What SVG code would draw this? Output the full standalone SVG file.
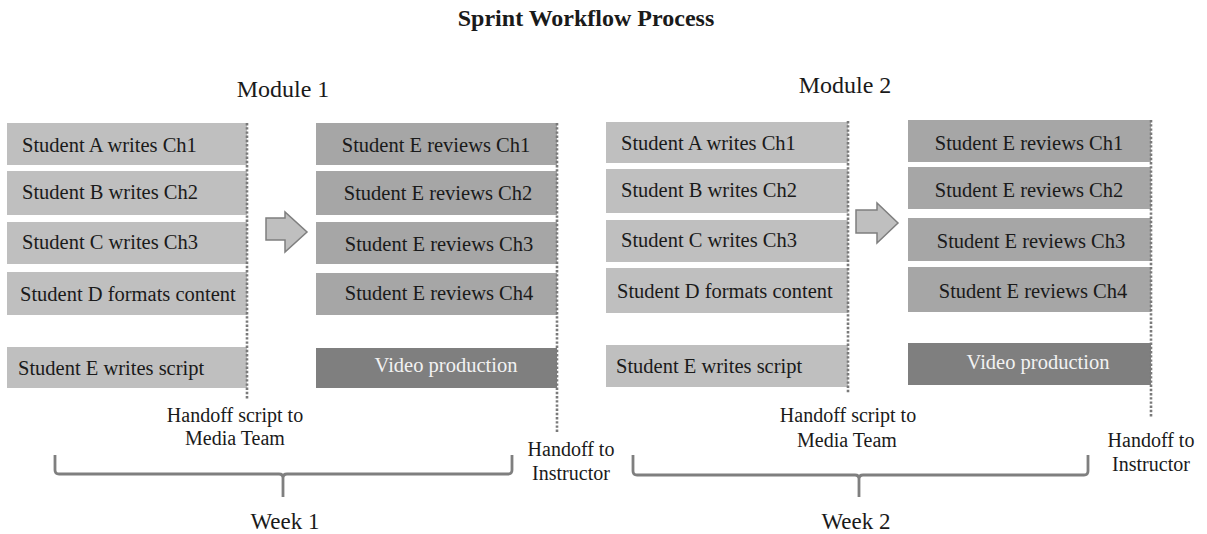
<svg xmlns="http://www.w3.org/2000/svg" width="1207" height="534" viewBox="0 0 1207 534">
<style>
text{font-family:"Liberation Serif","Times New Roman",serif;fill:#1a1a1a}
.title{font-size:24px;font-weight:bold;text-anchor:middle}
.mod{font-size:24px;text-anchor:middle}
.bt{font-size:20.5px}
.ct{font-size:20.5px;text-anchor:middle}
.wt{fill:#f2f2f2}
.lbl{font-size:20px;text-anchor:middle}
.wk{font-size:23px;text-anchor:middle}
.b1{fill:#bfbfbf}
.b2{fill:#a6a6a6}
.b3{fill:#7f7f7f}
.dot{stroke:#7a7a7a;stroke-width:2.6;stroke-dasharray:2.4 1.8;fill:none}
.arr{fill:#bfbfbf;stroke:#7f7f7f;stroke-width:1.5}
.br{fill:none;stroke:#7f7f7f;stroke-width:2.8}
</style>
<text class="title" x="586" y="26">Sprint Workflow Process</text>
<text class="mod" x="283" y="97">Module 1</text>
<text class="mod" x="845" y="93">Module 2</text>

<g id="m1-left">
<g id="m1-a"><rect class="b1" x="7" y="123" width="240" height="42"/><text class="bt" x="22" y="152">Student A writes Ch1</text></g>
<g id="m1-b"><rect class="b1" x="7" y="171" width="240" height="44"/><text class="bt" x="22" y="199">Student B writes Ch2</text></g>
<g id="m1-c"><rect class="b1" x="7" y="222" width="240" height="42"/><text class="bt" x="22" y="249">Student C writes Ch3</text></g>
<g id="m1-d"><rect class="b1" x="7" y="272" width="240" height="43"/><text class="bt" x="20" y="301">Student D formats content</text></g>
<g id="m1-e"><rect class="b1" x="7" y="347" width="240" height="41"/><text class="bt" x="18" y="375">Student E writes script</text></g>
</g>
<g id="m1-right">
<g id="m1-r1"><rect class="b2" x="316" y="123" width="241" height="42"/><text class="ct" x="436" y="152">Student E reviews Ch1</text></g>
<g id="m1-r2"><rect class="b2" x="316" y="171" width="241" height="44"/><text class="ct" x="438" y="200">Student E reviews Ch2</text></g>
<g id="m1-r3"><rect class="b2" x="316" y="222" width="241" height="42"/><text class="ct" x="439" y="251">Student E reviews Ch3</text></g>
<g id="m1-r4"><rect class="b2" x="316" y="273" width="241" height="42"/><text class="ct" x="439" y="300">Student E reviews Ch4</text></g>
<g id="m1-v"><rect class="b3" x="316" y="348" width="241" height="40"/><text class="ct wt" x="446" y="372">Video  production</text></g>
</g>

<g id="m2-left">
<g id="m2-a"><rect class="b1" x="606" y="122" width="242" height="41"/><text class="bt" x="621" y="150">Student A writes Ch1</text></g>
<g id="m2-b"><rect class="b1" x="606" y="169" width="242" height="44"/><text class="bt" x="621" y="197">Student B writes Ch2</text></g>
<g id="m2-c"><rect class="b1" x="606" y="220" width="242" height="42"/><text class="bt" x="621" y="247">Student C writes Ch3</text></g>
<g id="m2-d"><rect class="b1" x="606" y="268" width="242" height="45"/><text class="bt" x="617" y="298">Student D formats content</text></g>
<g id="m2-e"><rect class="b1" x="606" y="345" width="242" height="42"/><text class="bt" x="616" y="373">Student E writes script</text></g>
</g>
<g id="m2-right">
<g id="m2-r1"><rect class="b2" x="908" y="120" width="243" height="42"/><text class="ct" x="1029" y="150">Student E reviews Ch1</text></g>
<g id="m2-r2"><rect class="b2" x="908" y="167" width="243" height="42"/><text class="ct" x="1029" y="197">Student E reviews Ch2</text></g>
<g id="m2-r3"><rect class="b2" x="908" y="218" width="243" height="43"/><text class="ct" x="1031" y="248">Student E reviews Ch3</text></g>
<g id="m2-r4"><rect class="b2" x="908" y="267" width="243" height="45"/><text class="ct" x="1033" y="298">Student E reviews Ch4</text></g>
<g id="m2-v"><rect class="b3" x="908" y="343" width="243" height="42"/><text class="ct wt" x="1038" y="369">Video  production</text></g>
</g>

<g id="connectors">
<line class="dot" x1="247" y1="123" x2="247" y2="400"/>
<line class="dot" x1="557" y1="123" x2="557" y2="433"/>
<line class="dot" x1="848" y1="121" x2="848" y2="393"/>
<line class="dot" x1="1151" y1="120" x2="1151" y2="418"/>
<path class="arr" d="M266 218 H285 V212 L307 232 L285 252 V240 H266 Z"/>
<path class="arr" d="M856 210 H877 V203 L898 223 L877 243 V233 H856 Z"/>
<path class="br" d="M55 455 V470 Q55 474 59 474 H279 Q283 474 283 478 V497 M283 478 Q283 474 287 474 H508 Q512 474 512 470 V455"/>
<path class="br" d="M633 455 V471 Q633 475 637 475 H855 Q859 475 859 479 V497 M859 479 Q859 475 863 475 H1084 Q1088 475 1088 471 V455"/>
</g>

<g id="labels">
<text class="lbl" x="235" y="422">Handoff script to</text>
<text class="lbl" x="235" y="445">Media Team</text>
<text class="lbl" x="571" y="456">Handoff to</text>
<text class="lbl" x="571" y="480">Instructor</text>
<text class="lbl" x="848" y="422">Handoff script to</text>
<text class="lbl" x="847" y="447">Media Team</text>
<text class="lbl" x="1151" y="447">Handoff to</text>
<text class="lbl" x="1151" y="471">Instructor</text>
<text class="wk" x="285" y="529">Week 1</text>
<text class="wk" x="856" y="529">Week 2</text>
</g>
</svg>
